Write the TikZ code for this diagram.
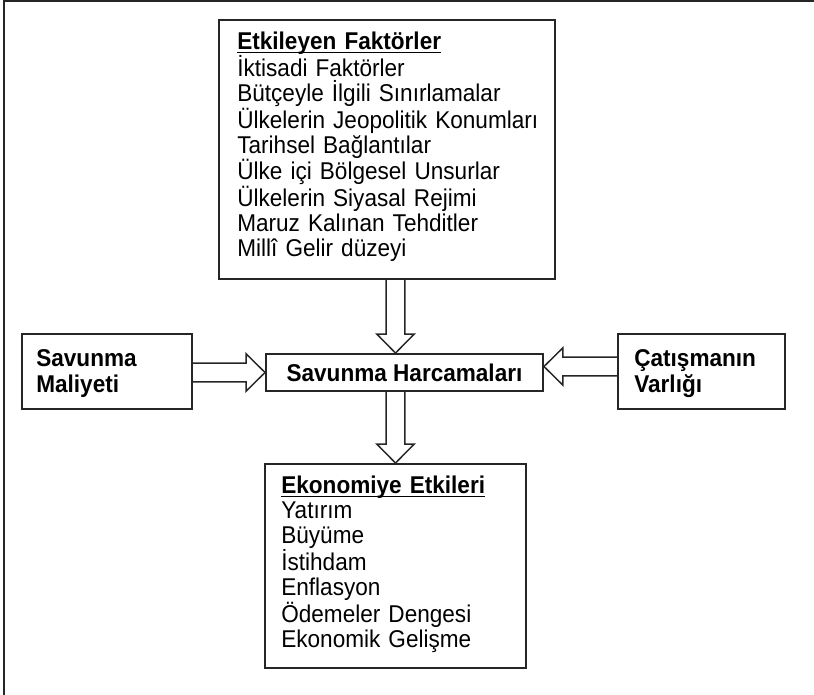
\documentclass[tikz,border=0pt]{standalone}
\usepackage{fontspec}
\setmainfont{Liberation Sans}[FakeStretch=0.93]
\usetikzlibrary{calc}
\newsavebox\ulb
\newcommand{\ultext}[1]{\sbox\ulb{#1}\rlap{\rule[-3.3pt]{\wd\ulb}{1.3pt}}\usebox\ulb}
\newcommand{\blockarrow}[2]{%
  \coordinate (bah) at ($(#2)!14.25pt!(#1)$);
  \draw[barrow] ($(#1)!7pt!90:(#2)$) -- ($(bah)!7pt!90:(#2)$) -- ($(bah)!14pt!90:(#2)$) -- (#2)
    -- ($(bah)!14pt!-90:(#2)$) -- ($(bah)!7pt!-90:(#2)$) -- ($(#1)!7pt!-90:(#2)$);}
\begin{document}
\begin{tikzpicture}[x=0.75pt,y=-0.75pt,
  box/.style={draw=black!85, line width=1.4pt, inner sep=0pt},
  txt/.style={inner sep=0pt, align=left, font=\fontsize{18.2}{18.75}\selectfont},
  btxt/.style={inner sep=0pt, align=left, font=\fontsize{18.2}{19.5}\selectfont\bfseries},
  barrow/.style={draw=black!85, line width=1.1pt, line join=miter}]
\useasboundingbox (0,0) rectangle (814,695);
\draw[line width=1.5pt, black!85] (814,1) -- (4,1) -- (4,695);

\node[box, minimum width=252pt, minimum height=194.25pt] (top) at (387,149.5) {};
\node[box, minimum width=207.75pt, minimum height=27.75pt, font=\fontsize{18.2}{19}\selectfont\bfseries] (center) at (404.5,372.5) {Savunma Harcamaları};
\node[box, minimum width=127.5pt, minimum height=56.25pt] (left) at (107,371.5) {};
\node[box, minimum width=125.25pt, minimum height=56.25pt] (right) at (701.5,371.5) {};
\node[box, minimum width=195.75pt, minimum height=153pt] (bot) at (395.5,566) {};

\node[txt, text width=235pt, anchor=base west] (topt) at ($(top.north west)+(19,30)$)
  {\ultext{\bfseries Etkileyen Faktörler}\\
   İktisadi Faktörler\\
   Bütçeyle İlgili Sınırlamalar\\
   Ülkelerin Jeopolitik Konumları\\
   Tarihsel Bağlantılar\\
   Ülke içi Bölgesel Unsurlar\\
   Ülkelerin Siyasal Rejimi\\
   Maruz Kalınan Tehditler\\
   Millî Gelir düzeyi};
\node[txt, text width=180pt, anchor=base west] (bott) at ($(bot.north west)+(17,30)$)
  {\ultext{\bfseries Ekonomiye Etkileri}\\
   Yatırım\\
   Büyüme\\
   İstihdam\\
   Enflasyon\\
   Ödemeler Dengesi\\
   Ekonomik Gelişme};
\node[btxt, text width=110pt, anchor=base west] (leftt) at ($(left.north west)+(15,33)$) {Savunma\\Maliyeti};
\node[btxt, text width=110pt, anchor=base west] (rightt) at ($(right.north west)+(17,33)$) {Çatışmanın\\Varlığı};

\coordinate (a1s) at (top.south -| bot.north);
\coordinate (a1e) at (center.north -| bot.north);
\coordinate (a2s) at (center.south -| bot.north);
\coordinate (a3s) at (left.east |- center.west);
\coordinate (a4s) at ($(right.west |- center.east)+(0,-6)$);
\coordinate (a4e) at ($(center.east)+(0,-6)$);
\blockarrow{a1s}{a1e}
\blockarrow{a2s}{bot.north}
\blockarrow{a3s}{center.west}
\blockarrow{a4s}{a4e}
\end{tikzpicture}
\end{document}
